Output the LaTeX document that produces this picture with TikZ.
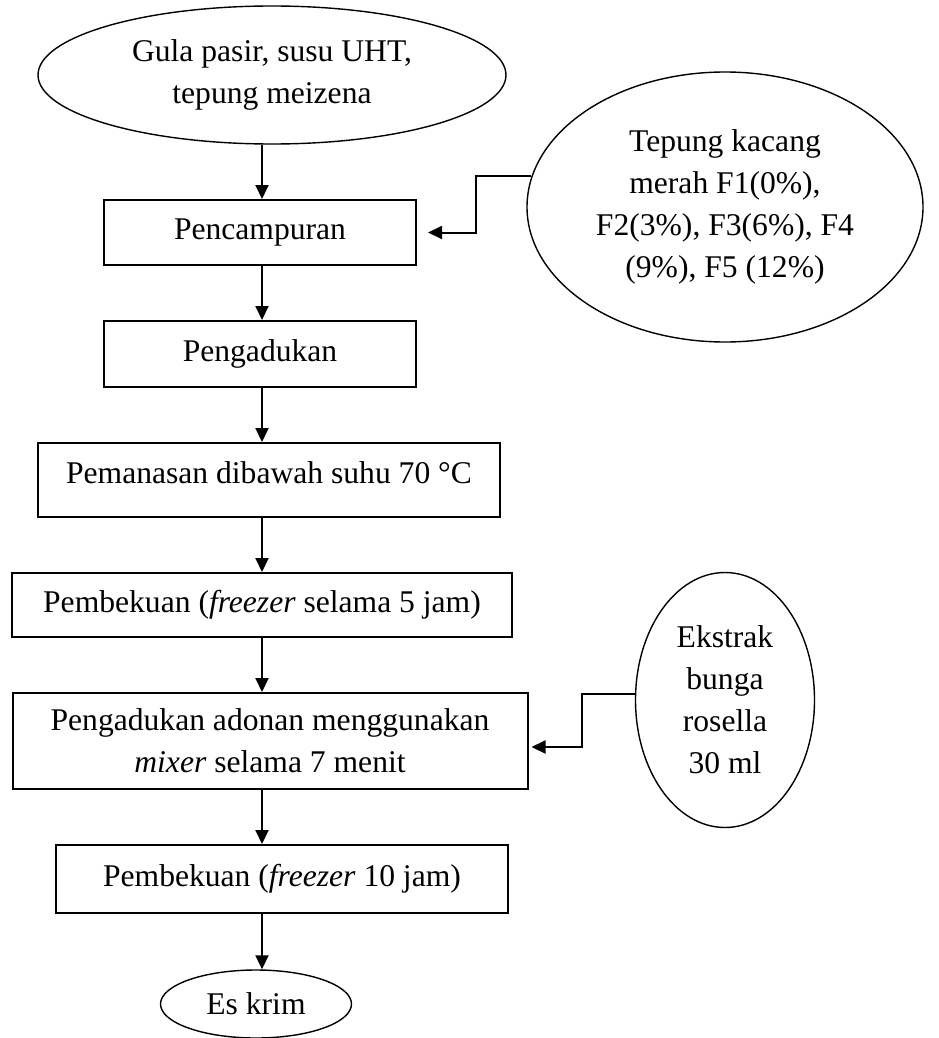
\documentclass[tikz,border=0pt]{standalone}
\usepackage{fontspec}
\setmainfont{Liberation Serif}
\usetikzlibrary{arrows.meta,shapes.geometric}

\begin{document}
\begin{tikzpicture}[x=0.5pt,y=-0.5pt,
    font=\fontsize{15.8pt}{21pt}\selectfont,
    proses/.style={draw,rectangle,line width=1pt,inner sep=0pt,align=center},
    bahan/.style={draw,ellipse,line width=0.7pt,inner sep=0pt,align=center},
    >={Triangle[length=7pt,width=6.5pt]}]
                \useasboundingbox (0,0) rectangle (938,1038);
                \coordinate (sumbu) at (262,0);
                % alur utama
                \node[bahan,minimum width=234pt,minimum height=69pt] (gula) at (272,75) {Gula pasir, susu UHT,\\tepung meizena};
                \node[proses,minimum width=156pt,minimum height=32.5pt] (campur) at (260,232.5) {Pencampuran};
                \node[proses,minimum width=156pt,minimum height=33pt] (aduk) at (260,354) {Pengadukan};
                \node[proses,minimum width=231pt,minimum height=37pt,text depth=7.5pt] (panas) at (269,480) {Pemanasan dibawah suhu 70 °C};
                \node[proses,minimum width=250pt,minimum height=32pt] (beku1) at (262,605) {Pembekuan (\textit{freezer} selama 5 jam)};
                \node[proses,minimum width=257.5pt,minimum height=48pt] (mixer) at (270,741) {Pengadukan adonan menggunakan\\\textit{mixer} selama 7 menit};
                \node[proses,minimum width=226pt,minimum height=34pt] (beku2) at (282,879) {Pembekuan (\textit{freezer} 10 jam)};
                \node[bahan,minimum width=95.5pt,minimum height=34pt] (es) at (256,1004) {Es krim};
                % bahan tambahan
                \node[bahan,minimum width=198pt,minimum height=135pt] (kacang) at (725,207) {Tepung kacang\\merah F1(0\%),\\F2(3\%), F3(6\%), F4\\(9\%), F5 (12\%)};
                \node[bahan,minimum width=89.5pt,minimum height=127.5pt] (ekstrak) at (725,700) {Ekstrak\\bunga\\rosella\\30 ml};
                \path[->,line width=1pt]
                (gula.south -| sumbu) edge (campur.north -| sumbu)
                (campur.south -| sumbu) edge (aduk.north -| sumbu)
                (aduk.south -| sumbu) edge (panas.north -| sumbu)
                (panas.south -| sumbu) edge (beku1.north -| sumbu)
                (beku1.south -| sumbu) edge (mixer.north -| sumbu)
                (mixer.south -| sumbu) edge (beku2.north -| sumbu)
                (beku2.south -| sumbu) edge (es.north -| sumbu);
                \draw[->,line width=1pt,shorten >=5.5pt] (kacang.171) -- ++(-55,0) |- (campur.east);
                \draw[->,line width=1pt,shorten >=1.5pt] (ekstrak.176) -- ++(-53,0) |- ([yshift=-3pt]mixer.east);
            \end{tikzpicture}
\end{document}
